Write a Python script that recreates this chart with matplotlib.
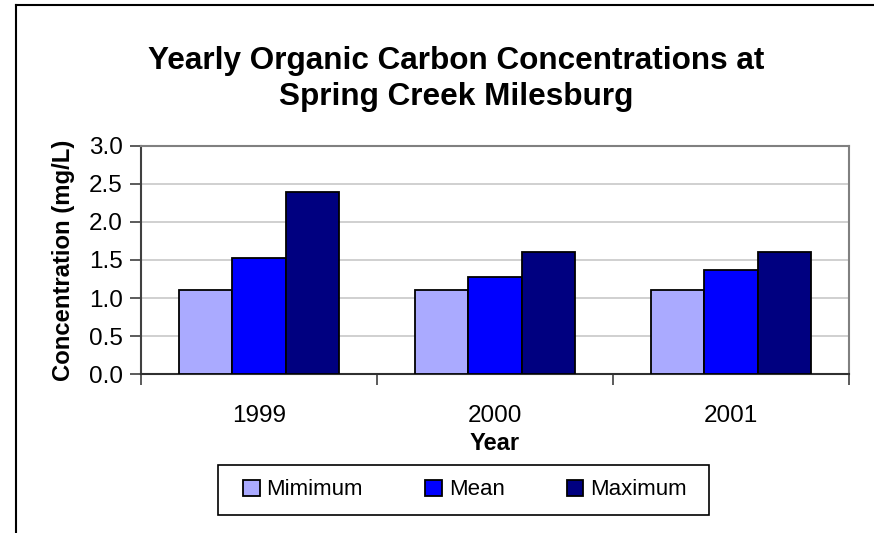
import numpy as np
import matplotlib
matplotlib.use("Agg")
import matplotlib.pyplot as plt
from matplotlib.lines import Line2D
from matplotlib.patches import Rectangle

plt.rcParams['font.family'] = ['Liberation Sans', 'DejaVu Sans']

years = ['1999', '2000', '2001']
minimum = [1.1, 1.1, 1.1]
mean = [1.52, 1.28, 1.37]
maximum = [2.4, 1.6, 1.6]
series_names = ['Mimimum', 'Mean', 'Maximum']
colors = ['#aaaaff', '#0000ff', '#000080']

fig = plt.figure(figsize=(8.74, 5.33), dpi=100)
ax = fig.add_axes([0.1613, 0.2983, 0.8101, 0.4278])

x = np.arange(len(years))
w = 0.225
for i, (vals, name, c) in enumerate(zip([minimum, mean, maximum], series_names, colors)):
    ax.bar(x + (i - 1) * w, vals, w, color=c, edgecolor='black', linewidth=1.3,
           label=name, zorder=3)

ax.set_xlim(-0.5, 2.5)
ax.set_ylim(0, 3.0)
ax.set_yticks(np.arange(0, 3.01, 0.5))
ax.set_yticklabels([f'{v:.1f}' for v in np.arange(0, 3.01, 0.5)])
ax.yaxis.grid(True, color='#c8c8c8', linewidth=1.2, zorder=0)

# category boundaries get the tick marks, labels sit in the middle
ax.set_xticks([-0.5, 0.5, 1.5, 2.5])
ax.set_xticklabels([])
ax.set_xticks(x, minor=True)
ax.set_xticklabels(years, minor=True)
ax.tick_params(axis='x', which='major', length=8, width=1.2, color='#404040', direction='out')
ax.tick_params(axis='x', which='minor', length=0, pad=22, labelsize=17.5)
ax.tick_params(axis='y', length=8, width=1.2, color='#404040', direction='out', labelsize=17.5, pad=5)

for side in ['top', 'right']:
    ax.spines[side].set_color('#808080')
    ax.spines[side].set_linewidth(1.5)
ax.spines['left'].set_color('#404040')
ax.spines['left'].set_linewidth(1.5)
ax.spines['bottom'].set_color('#303030')
ax.spines['bottom'].set_linewidth(1.5)

ax.set_xlabel('Year', fontsize=17, fontweight='bold', labelpad=4)
ax.set_ylabel('Concentration (mg/L)', fontsize=17.2, fontweight='bold', labelpad=10)

fig.text(0.522, 0.852, 'Yearly Organic Carbon Concentrations at\nSpring Creek Milesburg',
         ha='center', va='center', fontsize=22.7, fontweight='bold', linespacing=1.27)

# legend entries without frame, box drawn separately with wider side margins
ax.legend(loc='center', bbox_to_anchor=(0.532, 0.0807), bbox_transform=fig.transFigure,
          ncol=3, fontsize=16, frameon=False,
          handlelength=0.75, handleheight=0.75, handletextpad=0.3, columnspacing=2.8)
fig.add_artist(Rectangle((218 / 874, 1 - 515 / 533), 491 / 874, 50 / 533,
                         transform=fig.transFigure, facecolor='none',
                         edgecolor='black', linewidth=1.2))

# outer chart border along top and left edges
fig.add_artist(Line2D([16 / 874, 16 / 874], [0, 1 - 5 / 533], transform=fig.transFigure,
                      color='black', linewidth=1.5))
fig.add_artist(Line2D([16 / 874, 1], [1 - 5 / 533, 1 - 5 / 533], transform=fig.transFigure,
                      color='black', linewidth=1.5))

fig.savefig('out.png', dpi=100)
